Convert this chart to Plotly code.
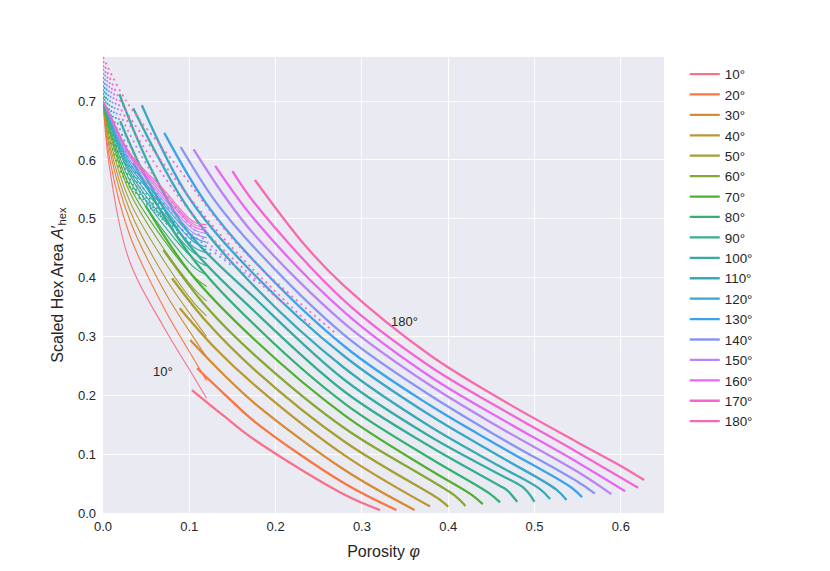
import math

import numpy as np
import plotly.graph_objects as go

ANGLES = [10, 20, 30, 40, 50, 60, 70, 80, 90, 100, 110, 120, 130, 140, 150, 160, 170, 180]

# thick (valid) branch, one list per angle
thick_phi = [
    [0.103, 0.14, 0.176, 0.28, 0.321],
    [0.109, 0.14, 0.176, 0.28, 0.340],
    [0.101, 0.14, 0.176, 0.28, 0.361],
    [0.089, 0.13, 0.176, 0.28, 0.379],
    [0.080, 0.12, 0.176, 0.28, 0.379, 0.390, 0.400],
    [0.070, 0.12, 0.176, 0.28, 0.379, 0.408, 0.420],
    [0.049, 0.10, 0.176, 0.28, 0.379, 0.428, 0.440],
    [0.035, 0.10, 0.176, 0.28, 0.379, 0.448, 0.460],
    [0.020, 0.05, 0.10, 0.176, 0.28, 0.379, 0.46, 0.468, 0.480],
    [0.019, 0.054, 0.10, 0.176, 0.28, 0.379, 0.46, 0.488, 0.500],
    [0.035, 0.10, 0.176, 0.28, 0.379, 0.46, 0.506, 0.518],
    [0.045, 0.10, 0.176, 0.28, 0.379, 0.46, 0.525, 0.537],
    [0.071, 0.12, 0.176, 0.28, 0.379, 0.46, 0.543, 0.555],
    [0.090, 0.13, 0.176, 0.28, 0.379, 0.46, 0.55, 0.570],
    [0.105, 0.14, 0.176, 0.28, 0.379, 0.46, 0.55, 0.589],
    [0.130, 0.176, 0.28, 0.379, 0.46, 0.55, 0.605],
    [0.150, 0.176, 0.28, 0.379, 0.46, 0.55, 0.620],
    [0.176, 0.234, 0.28, 0.379, 0.46, 0.55, 0.60, 0.627],
]
thick_area = [
    [0.209, 0.165, 0.124, 0.031, 0.005],
    [0.246, 0.203, 0.155, 0.050, 0.005],
    [0.294, 0.235, 0.186, 0.073, 0.005],
    [0.348, 0.280, 0.217, 0.098, 0.011],
    [0.399, 0.325, 0.243, 0.121, 0.033, 0.023, 0.011],
    [0.447, 0.350, 0.268, 0.144, 0.056, 0.029, 0.012],
    [0.523, 0.410, 0.294, 0.166, 0.073, 0.030, 0.015],
    [0.595, 0.440, 0.319, 0.186, 0.093, 0.033, 0.018],
    [0.666, 0.570, 0.455, 0.342, 0.206, 0.113, 0.046, 0.039, 0.019],
    [0.712, 0.590, 0.475, 0.365, 0.226, 0.130, 0.065, 0.042, 0.019],
    [0.688, 0.515, 0.384, 0.246, 0.147, 0.079, 0.041, 0.024],
    [0.693, 0.535, 0.404, 0.266, 0.166, 0.096, 0.040, 0.022],
    [0.646, 0.525, 0.427, 0.283, 0.183, 0.113, 0.043, 0.027],
    [0.622, 0.530, 0.450, 0.302, 0.200, 0.128, 0.053, 0.033],
    [0.618, 0.540, 0.472, 0.322, 0.217, 0.145, 0.070, 0.032],
    [0.590, 0.498, 0.341, 0.232, 0.161, 0.086, 0.037],
    [0.581, 0.526, 0.360, 0.249, 0.178, 0.103, 0.043],
    [0.566, 0.455, 0.385, 0.268, 0.194, 0.120, 0.080, 0.056],
]

# thin branch, shared porosity grid
thin_phi = [0.0, 0.008, 0.031, 0.07, 0.105, 0.12]
thin_area = [
    [0.70, 0.583, 0.427, 0.317, 0.232, 0.195],
    [0.70, 0.600, 0.472, 0.350, 0.262, 0.225],
    [0.70, 0.615, 0.498, 0.380, 0.298, 0.265],
    [0.70, 0.625, 0.515, 0.405, 0.330, 0.300],
    [0.70, 0.635, 0.530, 0.430, 0.358, 0.335],
    [0.70, 0.645, 0.545, 0.450, 0.382, 0.360],
    [0.70, 0.650, 0.555, 0.465, 0.402, 0.385],
    [0.70, 0.655, 0.565, 0.480, 0.418, 0.405],
    [0.70, 0.660, 0.575, 0.490, 0.432, 0.420],
    [0.70, 0.663, 0.580, 0.500, 0.442, 0.432],
    [0.70, 0.666, 0.585, 0.510, 0.452, 0.442],
    [0.70, 0.668, 0.590, 0.520, 0.461, 0.452],
    [0.70, 0.670, 0.595, 0.525, 0.469, 0.460],
    [0.70, 0.672, 0.600, 0.530, 0.476, 0.468],
    [0.70, 0.674, 0.605, 0.535, 0.482, 0.475],
    [0.70, 0.676, 0.608, 0.540, 0.487, 0.480],
    [0.70, 0.677, 0.610, 0.545, 0.491, 0.485],
    [0.70, 0.678, 0.612, 0.550, 0.495, 0.490],
]

# dotted branch, only for 70..180 degrees
DOT_ANGLES = [70, 80, 90, 100, 110, 120, 130, 140, 150, 160, 170, 180]
dot_phi = [
    [0.0, 0.0035, 0.0105, 0.021, 0.035],
    [0.0, 0.0045, 0.0135, 0.027, 0.045],
    [0.0, 0.006, 0.018, 0.036, 0.060],
    [0.0, 0.0075, 0.0225, 0.045, 0.075],
    [0.0, 0.009, 0.027, 0.054, 0.090],
    [0.0, 0.0105, 0.0315, 0.063, 0.105],
    [0.0, 0.0125, 0.0375, 0.075, 0.125],
    [0.0, 0.015, 0.045, 0.090, 0.150],
    [0.0, 0.018, 0.054, 0.108, 0.180],
    [0.0, 0.021, 0.063, 0.126, 0.210],
    [0.0, 0.024, 0.072, 0.144, 0.240],
    [0.0, 0.027, 0.080, 0.160, 0.270],
]
dot_area = [
    [0.700, 0.669, 0.623, 0.579, 0.545],
    [0.707, 0.672, 0.619, 0.569, 0.530],
    [0.714, 0.673, 0.612, 0.555, 0.510],
    [0.720, 0.674, 0.605, 0.541, 0.490],
    [0.727, 0.676, 0.599, 0.527, 0.470],
    [0.734, 0.678, 0.595, 0.516, 0.455],
    [0.741, 0.681, 0.591, 0.506, 0.440],
    [0.748, 0.682, 0.584, 0.492, 0.420],
    [0.755, 0.684, 0.584, 0.478, 0.390],
    [0.761, 0.686, 0.588, 0.468, 0.355],
    [0.768, 0.690, 0.590, 0.460, 0.320],
    [0.775, 0.700, 0.600, 0.450, 0.305],
]


# seaborn-style husl palette
_M = [[3.2406, -1.5372, -0.4986], [-0.9689, 1.8758, 0.0415], [0.0557, -0.2040, 1.0570]]


def _max_chroma(L, H):
    hrad = math.radians(H)
    sinH, cosH = math.sin(hrad), math.cos(hrad)
    sub1 = (L + 16) ** 3 / 1560896.0
    sub2 = sub1 if sub1 > 0.008856 else L / 903.3
    result = float("inf")
    for m1, m2, m3 in _M:
        top = (0.99915 * m1 + 1.05122 * m2 + 1.14460 * m3) * sub2
        rbottom = 0.86330 * m3 - 0.17266 * m2
        lbottom = 0.12949 * m3 - 0.38848 * m1
        bottom = (rbottom * sinH + lbottom * cosH) * sub2
        for t in (0.0, 1.0):
            C = L * (top - 1.05122 * t) / (bottom + 0.17266 * sinH * t)
            if 0.0 < C < result:
                result = C
    return result


def husl_to_hex(h, s, l):
    C = _max_chroma(l, h) / 100.0 * s
    U, V = C * math.cos(math.radians(h)), C * math.sin(math.radians(h))
    t = (l + 16.0) / 116.0
    varY = t ** 3 if t ** 3 > 0.008856 else (116.0 * t - 16.0) / 903.3
    varU = U / (13.0 * l) + 0.19784
    varV = V / (13.0 * l) + 0.46834
    Y = varY
    X = -(9.0 * Y * varU) / ((varU - 4.0) * varV - varU * varV)
    Z = (9.0 * Y - 15.0 * varV * Y - varV * X) / (3.0 * varV)
    out = []
    for row in _M:
        c = row[0] * X + row[1] * Y + row[2] * Z
        c = 12.92 * c if c <= 0.0031308 else 1.055 * c ** (1 / 2.4) - 0.055
        out.append(int(round(min(max(c, 0), 1) * 255)))
    return "#%02x%02x%02x" % tuple(out)


hues = (np.linspace(0, 1, len(ANGLES) + 1)[:-1] + 0.01) % 1 * 359
COLORS = [husl_to_hex(h, 0.9 * 99, 0.65 * 99) for h in hues]
FONT = "Liberation Sans, Arial, sans-serif"

fig = go.Figure()

for i, ang in enumerate(ANGLES):
    col = COLORS[i]
    fig.add_trace(go.Scatter(
        x=thin_phi, y=thin_area[i], mode="lines",
        line=dict(color=col, width=1.1, shape="spline"),
        showlegend=False, hoverinfo="skip",
    ))
    if ang in DOT_ANGLES:
        j = DOT_ANGLES.index(ang)
        fig.add_trace(go.Scatter(
            x=dot_phi[j], y=dot_area[j], mode="lines",
            line=dict(color=col, width=1.8, dash="2px,4px", shape="spline"),
            showlegend=False, hoverinfo="skip",
        ))
    fig.add_trace(go.Scatter(
        x=thick_phi[i], y=thick_area[i], mode="lines",
        line=dict(color=col, width=2.3, shape="spline"),
        name=f"{ang}°",
    ))

fig.add_annotation(x=0.349, y=0.326, text="180°", showarrow=False,
                   font=dict(size=13, color="#262626", family=FONT))
fig.add_annotation(x=0.0695, y=0.241, text="10°", showarrow=False,
                   font=dict(size=13, color="#262626", family=FONT))

# the page body adds an 8px offset, so the figure is 8px smaller on each side
fig.update_layout(
    width=822, height=563,
    margin=dict(l=95, r=166, t=49, b=58),
    paper_bgcolor="white",
    plot_bgcolor="#EAEAF2",
    font=dict(family=FONT, size=13, color="#262626"),
    legend=dict(
        x=1.037, y=0.996, xanchor="left", yanchor="top",
        bgcolor="rgba(0,0,0,0)", font=dict(size=13.4),
        tracegroupgap=0, itemwidth=30,
    ),
)
fig.update_xaxes(
    range=[0, 0.65], tickvals=[0, 0.1, 0.2, 0.3, 0.4, 0.5, 0.6], tickformat=".1f",
    showgrid=True, gridcolor="white", gridwidth=1.3, zeroline=False, showline=False,
    ticks="", automargin=False, ticklabelstandoff=4,
    title=dict(text="Porosity <i>φ</i>", standoff=12),
)
fig.update_yaxes(
    range=[0, 0.775], tickvals=[0, 0.1, 0.2, 0.3, 0.4, 0.5, 0.6, 0.7], tickformat=".1f",
    showgrid=True, gridcolor="white", gridwidth=1.3, zeroline=False, showline=False,
    ticks="", automargin=False, ticklabelstandoff=6,
    title=dict(text="Scaled Hex Area <i>A</i>′<sub>hex</sub>", standoff=10),
)

fig.write_html("out.html")
